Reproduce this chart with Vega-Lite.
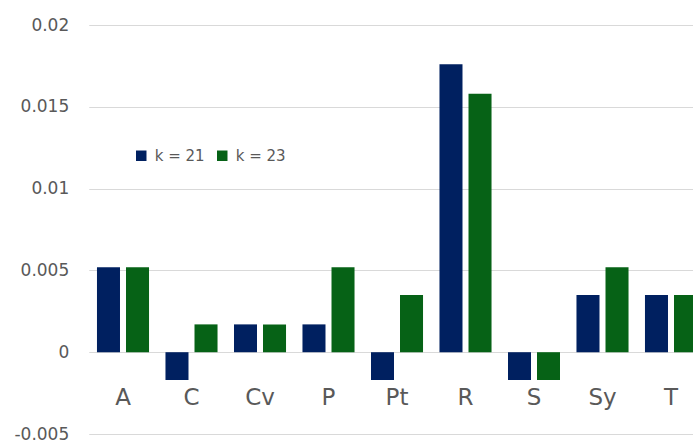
{
  "$schema": "https://vega.github.io/schema/vega-lite/v6.json",
  "width": 604.25,
  "height": 409,
  "autosize": {"type": "none"},
  "padding": {"left": 88.75, "top": 25, "right": 0, "bottom": 12},
  "background": "white",
  "data": {
    "values": [
      {"cat": "A", "k": "k = 21", "value": 0.0052},
      {"cat": "A", "k": "k = 23", "value": 0.0052},
      {"cat": "C", "k": "k = 21", "value": -0.0017},
      {"cat": "C", "k": "k = 23", "value": 0.0017},
      {"cat": "Cv", "k": "k = 21", "value": 0.0017},
      {"cat": "Cv", "k": "k = 23", "value": 0.0017},
      {"cat": "P", "k": "k = 21", "value": 0.0017},
      {"cat": "P", "k": "k = 23", "value": 0.0052},
      {"cat": "Pt", "k": "k = 21", "value": -0.0017},
      {"cat": "Pt", "k": "k = 23", "value": 0.0035},
      {"cat": "R", "k": "k = 21", "value": 0.0176},
      {"cat": "R", "k": "k = 23", "value": 0.0158},
      {"cat": "S", "k": "k = 21", "value": -0.0017},
      {"cat": "S", "k": "k = 23", "value": -0.0017},
      {"cat": "Sy", "k": "k = 21", "value": 0.0035},
      {"cat": "Sy", "k": "k = 23", "value": 0.0052},
      {"cat": "T", "k": "k = 21", "value": 0.0035},
      {"cat": "T", "k": "k = 23", "value": 0.0035}
    ]
  },
  "mark": {"type": "bar"},
  "encoding": {
    "x": {
      "field": "cat",
      "type": "nominal",
      "sort": null,
      "scale": {"range": [0, 616.5], "paddingInner": 0.24, "paddingOuter": 0.12},
      "axis": {
        "title": null,
        "domain": false,
        "ticks": false,
        "grid": false,
        "offset": -81.8,
        "labelAngle": 0,
        "labelBaseline": "alphabetic",
        "labelPadding": 52,
        "labelFont": "DejaVu Sans",
        "labelFontSize": 23,
        "labelColor": "#595959"
      }
    },
    "xOffset": {
      "field": "k",
      "type": "nominal",
      "scale": {"paddingInner": 0.207, "paddingOuter": 0}
    },
    "y": {
      "field": "value",
      "type": "quantitative",
      "scale": {"domain": [-0.005, 0.02], "nice": false, "zero": false},
      "axis": {
        "title": null,
        "values": [-0.005, 0, 0.005, 0.01, 0.015, 0.02],
        "labelExpr": "'' + datum.value",
        "domain": false,
        "ticks": false,
        "grid": true,
        "gridColor": "#d9d9d9",
        "gridWidth": 1,
        "labelPadding": 20,
        "labelFont": "DejaVu Sans",
        "labelFontSize": 17,
        "labelColor": "#595959"
      }
    },
    "color": {
      "field": "k",
      "type": "nominal",
      "scale": {"range": ["#002060", "#066216"]},
      "legend": {
        "title": null,
        "orient": "none",
        "legendX": 45,
        "legendY": 123,
        "direction": "horizontal",
        "symbolType": "square",
        "symbolSize": 110,
        "symbolStrokeWidth": 0,
        "labelFont": "DejaVu Sans",
        "labelFontSize": 15,
        "labelColor": "#595959",
        "labelOffset": 6,
        "columnPadding": 10
      }
    }
  },
  "config": {"view": {"stroke": null}}
}
